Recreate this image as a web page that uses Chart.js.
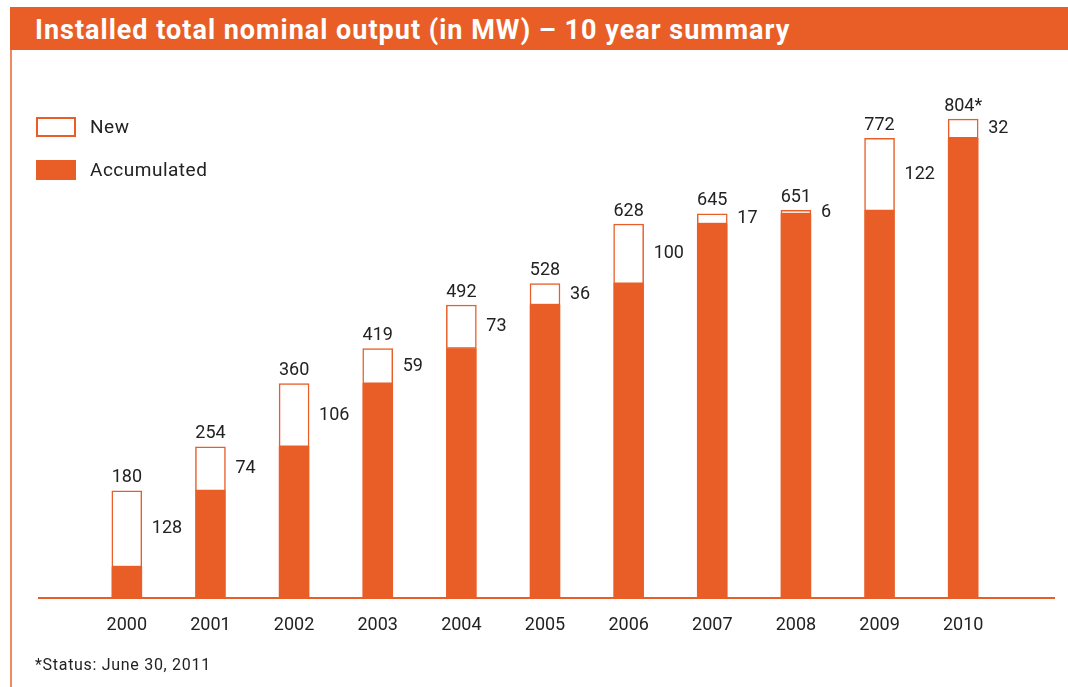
<!DOCTYPE html>
<html lang="en">
  <head>
    <meta charset="UTF-8" />
    <title>Installed total nominal output</title>
    <script src="https://cdn.jsdelivr.net/npm/chart.js@4.4.1/dist/chart.umd.min.js"></script>
    <style>
      body {
        margin: 0;
        background: #fff;
        font-family: "Roboto", sans-serif;
        color: #222;
      }
      #page {
        position: relative;
        width: 1068px;
        height: 687px;
        overflow: hidden;
      }
      #title {
        position: absolute;
        left: 10px;
        top: 7px;
        width: 1058px;
        height: 43px;
        background: #e95e27;
        color: #fff;
        font-weight: bold;
        font-size: 27px;
        letter-spacing: 1px;
        line-height: 47px;
        padding-left: 25px;
        box-sizing: border-box;
      }
      #leftline {
        position: absolute;
        left: 10px;
        top: 50px;
        width: 2px;
        height: 637px;
        background: #ef8a5e;
      }
      .legend {
        position: absolute;
        left: 36px;
        font-size: 19px;
        letter-spacing: 0.5px;
        display: flex;
        align-items: center;
      }
      .legend span.box {
        display: inline-block;
        width: 40px;
        height: 20px;
        box-sizing: border-box;
        margin-right: 14px;
      }
      #note {
        position: absolute;
        left: 35px;
        top: 655px;
        font-size: 16px;
        letter-spacing: 0.7px;
      }
      #wrap {
        position: absolute;
        left: 0;
        top: 0;
        width: 1068px;
        height: 687px;
      }
    </style>
  </head>
  <body>
    <div id="page">
      <div id="wrap"><canvas id="myChart"></canvas></div>
      <div id="title">Installed total nominal output (in MW) – 10 year summary</div>
      <div id="leftline"></div>
      <div class="legend" style="top: 115px">
        <span class="box" style="border: 2px solid #e95e27; background: #fff"></span>New
      </div>
      <div class="legend" style="top: 158px">
        <span class="box" style="background: #e95e27"></span>Accumulated
      </div>
      <div id="note">*Status: June 30, 2011</div>
    </div>

    <script>
      const orange = "#e95e27";
      const years = ["2000", "2001", "2002", "2003", "2004", "2005", "2006", "2007", "2008", "2009", "2010"];
      const accumulated = [52, 180, 254, 360, 419, 492, 528, 628, 645, 650, 772];
      const newOutput = [128, 74, 106, 59, 73, 36, 100, 17, 6, 122, 32];
      const totalLabels = ["180", "254", "360", "419", "492", "528", "628", "645", "651", "772", "804*"];

      const labelPlugin = {
        id: "barLabels",
        beforeDatasetsDraw(chart) {
          // long baseline under the bars
          const c = chart.ctx;
          const y0 = chart.scales.y.getPixelForValue(0);
          c.save();
          c.strokeStyle = orange;
          c.lineWidth = 2;
          c.beginPath();
          c.moveTo(38, y0);
          c.lineTo(1055, y0);
          c.stroke();
          c.restore();
        },
        afterDatasetsDraw(chart) {
          const c = chart.ctx;
          const meta = chart.getDatasetMeta(1);
          c.save();
          c.fillStyle = "#222";
          c.font = "18px Roboto";
          meta.data.forEach((bar, i) => {
            c.textAlign = "center";
            c.textBaseline = "bottom";
            c.fillText(totalLabels[i], bar.x, bar.y - 4);
            c.textAlign = "left";
            c.textBaseline = "middle";
            c.fillText(String(newOutput[i]), bar.x + bar.width / 2 + 10, (bar.y + bar.base) / 2);
          });
          c.restore();
        },
      };

      new Chart(document.getElementById("myChart"), {
        type: "bar",
        data: {
          labels: years,
          datasets: [
            {
              label: "Accumulated",
              data: accumulated,
              backgroundColor: orange,
              borderWidth: 0,
              barThickness: 30,
            },
            {
              label: "New",
              data: newOutput,
              backgroundColor: "#fff",
              borderColor: orange,
              borderWidth: 1.5,
              borderSkipped: false,
              barThickness: 30,
            },
          ],
        },
        options: {
          responsive: true,
          maintainAspectRatio: false,
          animation: false,
          layout: { padding: { left: 85, right: 63, top: 93, bottom: 0 } },
          plugins: { legend: { display: false }, tooltip: { enabled: false } },
          scales: {
            x: {
              stacked: true,
              grid: { display: false, drawTicks: false },
              border: { display: false },
              ticks: { color: "#222", font: { family: "Roboto", size: 18 }, padding: 17 },
              afterFit: s => {
                s.height = 89;
              },
            },
            y: {
              stacked: true,
              display: false,
              min: 0,
              max: 848,
            },
          },
        },
        plugins: [labelPlugin],
      });
    </script>
  </body>
</html>
